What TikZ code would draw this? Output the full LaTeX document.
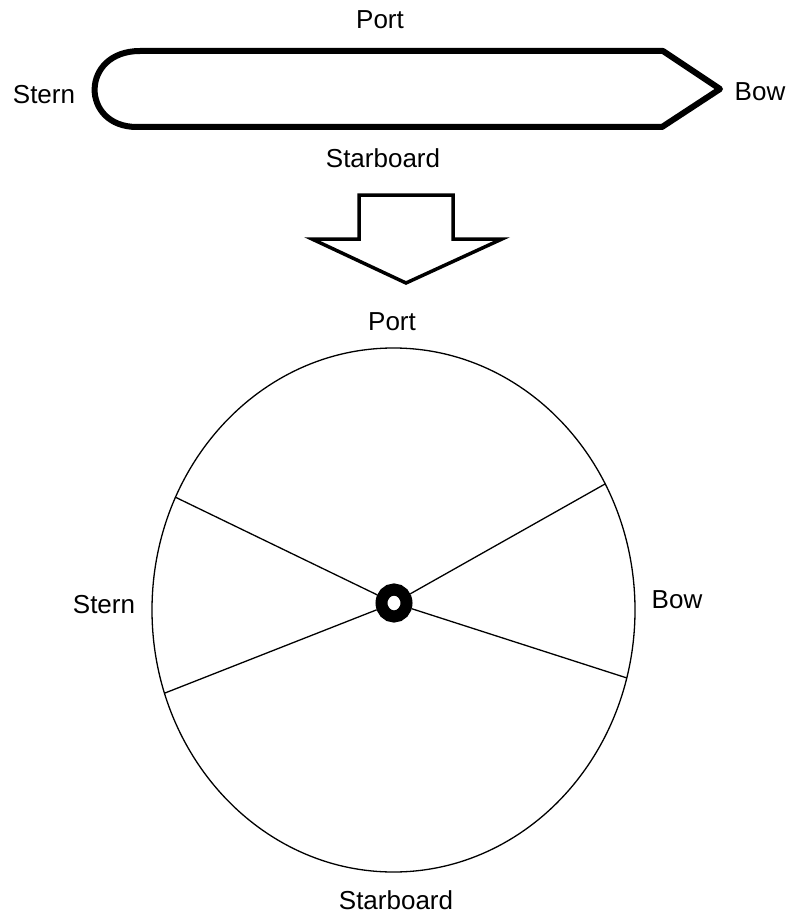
\documentclass[tikz,border=0pt]{standalone}
\usepackage{fontspec}
\setmainfont{Liberation Sans}
\usetikzlibrary{shapes.geometric}
\tikzset{
  lbl/.style={inner sep=0pt, font=\fontsize{26}{30}\selectfont},
  hull/.style={line width=6pt, line join=round, line cap=round},
  bigarrow/.style={line width=3.5pt, line join=miter},
  thin/.style={line width=1.3pt},
  hub/.style={ellipse, draw, line width=12pt, minimum width=25pt, minimum height=27pt, inner sep=0pt}
}
\begin{document}
\begin{tikzpicture}[x=1pt,y=-1pt]
\useasboundingbox (0,0) rectangle (788,915);
% top ship
\draw[hull] (140,51) -- (663,51) -- (720,89) -- (662,127) -- (137,127)
  .. controls (80,127) and (80,51) .. (140,51) -- cycle;
\node[lbl] (portA) at (380,20) {Port};
\node[lbl] (sternA) at (44,95) {Stern};
\node[lbl] (bowA) at (760,92) {Bow};
\node[lbl] (starA) at (383,158) {Starboard};
% block arrow
\draw[bigarrow] (359,239) -- (359,195) -- (453,195) -- (453,239) -- (502,239)
  -- (406,283) -- (312,239) -- cycle;
% wheel
\draw[thin] (393.5,610) ellipse [x radius=241.5pt, y radius=262pt];
\node[hub] (ring) at (394,603) {};
\coordinate (c1) at (175,497);
\coordinate (c2) at (605,484);
\coordinate (c3) at (165,693);
\coordinate (c4) at (627,678);
\draw[thin] (c1) -- (ring);
\draw[thin] (c2) -- (ring);
\draw[thin] (c3) -- (ring);
\draw[thin] (c4) -- (ring);
\node[lbl] (portB) at (392,322) {Port};
\node[lbl] (sternB) at (104,605) {Stern};
\node[lbl] (bowB) at (677,600) {Bow};
\node[lbl] (starB) at (396,900) {Starboard};
\end{tikzpicture}
\end{document}
